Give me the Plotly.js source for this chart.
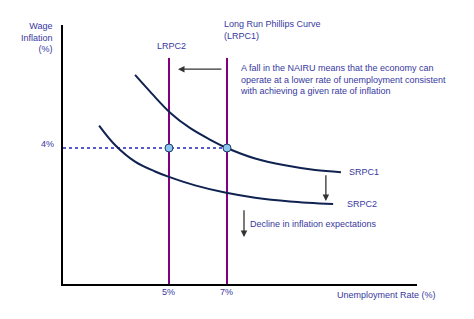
<!DOCTYPE html>
<html>
<head>
<meta charset="utf-8">
<script src="https://cdn.plot.ly/plotly-3.0.1.min.js"></script>
<style>html,body{margin:0;padding:0;background:#fff;}#chart{width:474px;height:319px;}</style>
</head>
<body>
<div id="chart"></div>
<script>
// Long-run Phillips curves (NAIRU, % unemployment)
const lrpcLabels = ['LRPC2', 'LRPC1'];
const nairu = [5, 7];
const lrpcTop = 6.65;
// Target wage inflation level (%)
const inflationLevel = 4;
// Short-run Phillips curve 1
const srpc1X = [3.83, 4.41, 5.04, 5.72, 6.41, 7.0, 7.97, 9.0, 10.04, 10.93];
const srpc1Y = [6.15, 5.60, 5.04, 4.59, 4.25, 4.0, 3.69, 3.49, 3.35, 3.29];
// Short-run Phillips curve 2
const srpc2X = [2.59, 3.14, 3.83, 4.52, 5.0, 5.90, 6.93, 7.97, 9.17, 10.66];
const srpc2Y = [4.66, 4.09, 3.60, 3.31, 3.15, 2.90, 2.69, 2.54, 2.43, 2.35];
const xTickVals = [5, 7];
const xTickText = ['5%', '7%'];
const yTickText = '4%';

const xRange = [1.345, 13.552];
const yRange = [0, 7.618];
const txt = '#3838a0';
const fnt = {family: 'Liberation Sans, Arial, sans-serif', size: 9, color: txt};

const traces = [];
// LRPC vertical lines
nairu.forEach(function (u) {
  traces.push({x: [u, u], y: [yRange[0], lrpcTop], mode: 'lines',
    line: {color: '#800080', width: 2}, hoverinfo: 'skip'});
});
// dotted 4% line
traces.push({x: [xRange[0], nairu[1]], y: [inflationLevel, inflationLevel], mode: 'lines',
  line: {color: '#2525c0', width: 1.5, dash: 'dot'}, hoverinfo: 'skip'});
// SRPC curves
traces.push({x: srpc1X, y: srpc1Y, mode: 'lines', line: {color: '#0f2250', width: 2, shape: 'spline', smoothing: 1}});
traces.push({x: srpc2X, y: srpc2Y, mode: 'lines', line: {color: '#0f2250', width: 2, shape: 'spline', smoothing: 1}});
// equilibrium points
traces.push({x: nairu, y: nairu.map(function () { return inflationLevel; }), mode: 'markers',
  marker: {size: 8, color: '#8cc6ee', line: {color: '#1d3c6c', width: 1}}});

function px2x(p) { return (p - 63) / 354; }
function py2y(p) { return (284 - p) / 259; }

const annotations = [
  {xref: 'paper', yref: 'paper', x: px2x(55), y: py2y(37), xanchor: 'right', yanchor: 'middle', align: 'right',
   text: 'Wage<br>Inflation<br>(%)', showarrow: false, font: fnt},
  {xref: 'x', yref: 'paper', x: nairu[0], xshift: 3, y: py2y(46), xanchor: 'center', yanchor: 'middle',
   text: lrpcLabels[0], showarrow: false, font: fnt},
  {xref: 'x', yref: 'paper', x: nairu[1], xshift: -5, y: py2y(30), xanchor: 'left', yanchor: 'middle', align: 'left',
   text: 'Long Run Phillips Curve<br>(' + lrpcLabels[1] + ')', showarrow: false, font: fnt},
  {xref: 'paper', yref: 'paper', x: px2x(238), y: py2y(79.5), xanchor: 'left', yanchor: 'middle', align: 'left',
   text: 'A fall in the NAIRU means that the economy can<br>operate at a lower rate of unemployment consistent<br>with achieving a given rate of inflation',
   showarrow: false, font: fnt},
  {xref: 'x', yref: 'y', x: srpc1X[srpc1X.length - 1], y: srpc1Y[srpc1Y.length - 1], xshift: 6, xanchor: 'left', yanchor: 'middle',
   text: 'SRPC1', showarrow: false, font: fnt},
  {xref: 'x', yref: 'y', x: srpc2X[srpc2X.length - 1], y: srpc2Y[srpc2Y.length - 1], xshift: 12, xanchor: 'left', yanchor: 'middle',
   text: 'SRPC2', showarrow: false, font: fnt},
  {xref: 'paper', yref: 'paper', x: px2x(248), y: py2y(224), xanchor: 'left', yanchor: 'middle',
   text: 'Decline in inflation expectations', showarrow: false, font: fnt},
  {xref: 'paper', yref: 'y', x: px2x(56), y: inflationLevel, yshift: 4, xanchor: 'right', yanchor: 'middle',
   text: yTickText, showarrow: false, font: fnt},
  {xref: 'x', yref: 'paper', x: xTickVals[0], y: py2y(292), xanchor: 'center', yanchor: 'middle',
   text: xTickText[0], showarrow: false, font: fnt},
  {xref: 'x', yref: 'paper', x: xTickVals[1], y: py2y(292), xanchor: 'center', yanchor: 'middle',
   text: xTickText[1], showarrow: false, font: fnt},
  {xref: 'paper', yref: 'paper', x: px2x(386), y: py2y(295), xanchor: 'center', yanchor: 'middle',
   text: 'Unemployment Rate (%)', showarrow: false, font: fnt},
  // arrows
  {xref: 'x', yref: 'y', axref: 'x', ayref: 'y', x: 5.31, y: 6.32, ax: 6.86, ay: 6.32, text: '',
   showarrow: true, arrowhead: 2, arrowsize: 1, arrowwidth: 1.3, arrowcolor: '#333'},
  {xref: 'x', yref: 'y', axref: 'x', ayref: 'y', x: 10.41, y: 2.44, ax: 10.41, ay: 3.24, text: '',
   showarrow: true, arrowhead: 2, arrowsize: 1, arrowwidth: 1.3, arrowcolor: '#333'},
  {xref: 'x', yref: 'y', axref: 'x', ayref: 'y', x: 7.586, y: 1.38, ax: 7.586, ay: 2.21, text: '',
   showarrow: true, arrowhead: 2, arrowsize: 1, arrowwidth: 1.3, arrowcolor: '#333'}
];

const layout = {
  width: 474, height: 319,
  margin: {l: 63, r: 57, t: 25, b: 35},
  paper_bgcolor: '#fff', plot_bgcolor: '#fff',
  showlegend: false,
  xaxis: {range: xRange, showgrid: false, zeroline: false, showticklabels: false, ticks: '',
    showline: true, linecolor: '#000', linewidth: 2},
  yaxis: {range: yRange, showgrid: false, zeroline: false, showticklabels: false, ticks: '',
    showline: true, linecolor: '#000', linewidth: 2},
  annotations: annotations,
  font: fnt
};

Plotly.newPlot('chart', traces, layout, {displayModeBar: false, staticPlot: true});
</script>
</body>
</html>
